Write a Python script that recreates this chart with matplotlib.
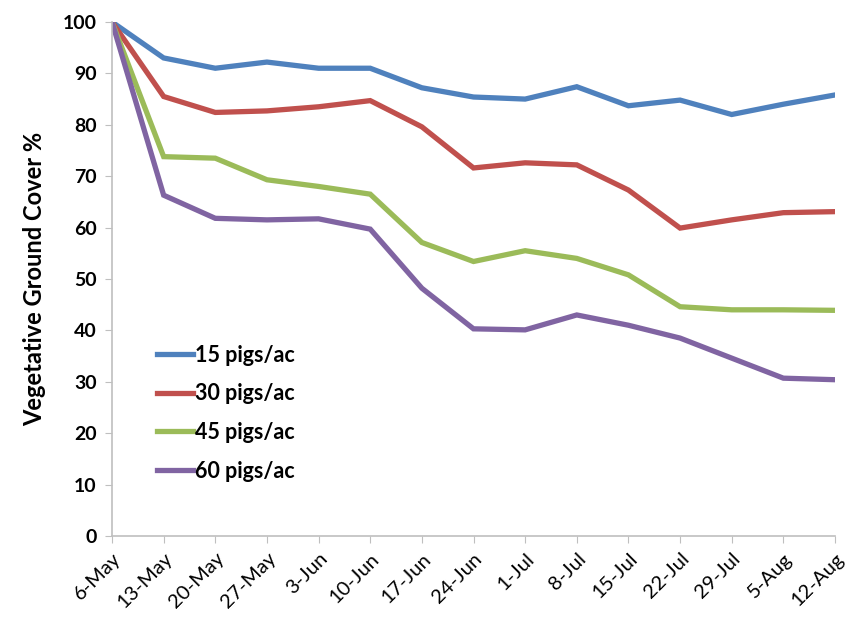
import matplotlib.pyplot as plt

plt.rcParams['font.family'] = ['Lato', 'DejaVu Sans']

dates = ['6-May', '13-May', '20-May', '27-May', '3-Jun', '10-Jun', '17-Jun', '24-Jun',
         '1-Jul', '8-Jul', '15-Jul', '22-Jul', '29-Jul', '5-Aug', '12-Aug']
pigs15 = [100, 93, 91, 92.2, 91, 91, 87.2, 85.4, 85, 87.4, 83.7, 84.8, 82, 84, 85.8]
pigs30 = [100, 85.5, 82.4, 82.7, 83.5, 84.7, 79.6, 71.6, 72.6, 72.2, 67.3, 59.9, 61.5, 62.9, 63.1]
pigs45 = [100, 73.8, 73.5, 69.3, 68, 66.5, 57.1, 53.4, 55.5, 54, 50.8, 44.6, 44, 44, 43.9]
pigs60 = [100, 66.3, 61.8, 61.5, 61.7, 59.7, 48.2, 40.3, 40.1, 43, 41, 38.5, 34.6, 30.7, 30.4]

series = [('15 pigs/ac', pigs15, '#4F81BD'),
          ('30 pigs/ac', pigs30, '#C0504D'),
          ('45 pigs/ac', pigs45, '#9BBB59'),
          ('60 pigs/ac', pigs60, '#8064A2')]

fig = plt.figure(figsize=(8.46, 6.37), dpi=100)
ax = fig.add_axes([0.1324, 0.1586, 0.8546, 0.8069])

x = range(len(dates))
for name, vals, col in series:
    ax.plot(x, vals, color=col, lw=3.8, label=name, solid_joinstyle='miter')

ax.set_xlim(0, len(dates) - 1)
ax.set_ylim(0, 100)
ax.set_yticks(range(0, 101, 10))
ax.set_xticks(list(x))
ax.set_xticklabels(dates, rotation=45, ha='right', rotation_mode='anchor', fontsize=14.5)
ax.tick_params(axis='y', labelsize=14, length=5, color='#BFBFBF', pad=6)
ax.tick_params(axis='x', length=5, color='#BFBFBF', pad=5)
for lab in ax.get_yticklabels():
    lab.set_fontweight('bold')

for s in ['top', 'right']:
    ax.spines[s].set_visible(False)
for s in ['left', 'bottom']:
    ax.spines[s].set_color('#BFBFBF')
    ax.spines[s].set_linewidth(1.2)

ax.set_ylabel('Vegetative Ground Cover %', fontsize=17, fontweight='bold', labelpad=12)

leg = ax.legend(loc='lower left', bbox_to_anchor=(0.035, 0.068), frameon=False,
                fontsize=15.5, handlelength=1.7, handletextpad=0.1, labelspacing=0.82)
for t in leg.get_texts():
    t.set_fontweight('bold')

fig.savefig('out.png', dpi=100)
